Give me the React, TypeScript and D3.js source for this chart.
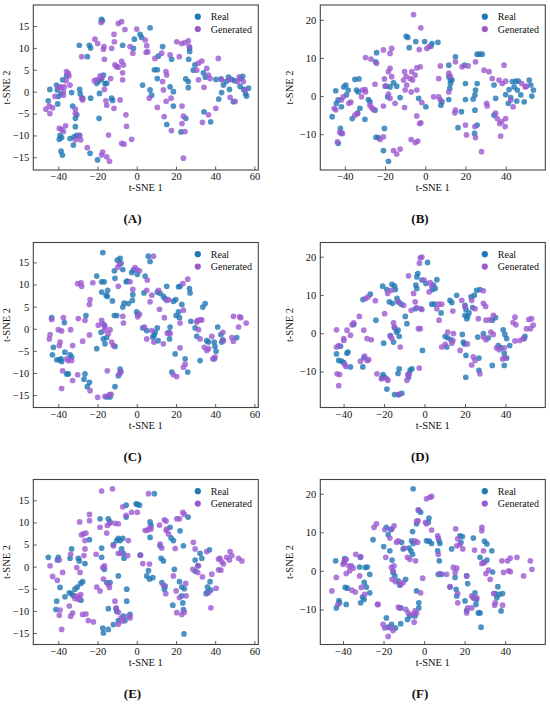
import * as d3 from "d3";
import { useEffect, useRef } from "react";

type Pt = [number, number];

// t-SNE embeddings, one pair of arrays per panel
const realA: Pt[] = [
  [-18, 16.5], [-17.5, 16.2], [-29.3, 10.6], [-24.2, 10.6], [-23.5, 10], [-25.2, 8], [-7.2, 10.6], [-1.7, 9.9],
  [-1.2, 12], [1.7, 13.1], [2.5, 12.4], [6.8, 14.6], [13.2, 10.3], [11, 8.1], [17.8, 7.4], [27, 10], [27, 9.2],
  [26.5, 7.4], [29.7, 6.1], [28.9, 4.9], [9, 5], [10.5, 5], [10.5, 3], [3, 1.5], [6.8, 0.4], [7.6, -0.8], [17, 1.1],
  [18.7, 0], [18.7, -3.3], [15.3, -7.5], [25, 2.9], [26.3, 2.3], [26.3, 0.9], [25, -6.1], [22.6, -9.2], [34.3, -4.6],
  [37.7, -6.9], [34, 4.3], [35, 3.3], [40.4, 2.8], [43, 2.9], [43.3, -0.2], [41.8, -1.7], [44.2, 1.5], [45.6, 2.3],
  [46.8, 3.3], [48.4, 2.8], [47.3, 0.5], [50, 2.5], [53, 3], [54, 3.5], [52.7, 1.2], [54.5, 0.5], [55.5, -0.5],
  [56, -1], [49.3, -2.3], [57, 0.8], [-44.3, 0.5], [-45.1, -2.1], [-40.9, 1.5], [-40.5, 0.4], [-40, -1.1],
  [-37.8, 2.7], [-35.8, 3.6], [-38.6, -0.5], [-40.3, -2.8], [-33.2, -0.2], [-32.7, -3.3], [-29.1, 0.5], [-28.8, -0.5],
  [-27.6, -1.5], [-23.5, -1.5], [-30.6, -5.3], [-31.3, -6.1], [-31.3, -8], [-30.6, -10], [-29.1, -10], [-34, -10.7],
  [-32, -10.3], [-32.3, -12.2], [-39.1, -10], [-38.3, -10.5], [-39.5, -10.9], [-38.6, -13.6], [-37.9, -14.5],
  [-23.8, -14.1], [-20, -15.6], [-19.2, -6.1], [-20.4, 1.9], [-19.5, 2.4], [-17.9, 2.8], [-17, 3.8], [-16.2, 1.8],
  [-15.3, 1.9], [-19, -0.4], [-12.8, -1.5], [-12.3, -2],
];
const genA: Pt[] = [
  [-18.2, 15.8], [-21.3, 12], [-19.9, 11], [-16.7, 10.3], [-17, 9.7], [-16.5, 7.4], [-12.8, 9.9], [-11.6, 13.1],
  [-11.4, 11.4], [-9.4, 15.6], [-7.7, 16], [-6, 14.2], [-3.4, 10.3], [-2, 8.8], [0, 14.3], [4.3, 11.8], [5.1, 10.5],
  [4.8, 9], [5.6, 9.1], [9.3, 7.6], [12.7, 8.8], [14.9, 4.6], [15.3, 3.8], [17, 8.4], [20.4, 11.4], [22.9, 11],
  [24.6, 11.2], [26.3, 11.6], [26.8, 10.3], [21.7, 8], [30.6, 4.9], [31.5, 6.5], [33.2, 7], [35.7, 5.3], [36.6, 3.8],
  [37.4, 3], [34.3, 1], [31.5, 2.7], [33.5, -7], [36.6, -5.3], [40.3, -3.8], [41.6, 7.6], [43.3, 2.7], [47.3, 2.7],
  [47.6, -1.3], [51.3, 2.3], [52.3, 3.4], [54.4, 2.3], [55.2, 0.4], [50.2, -2.2], [13.2, 2.3], [13.6, 0.4],
  [10.5, -3.6], [6.4, -1.5], [15, -2.2], [14, -5.7], [17.5, -1.5], [17.7, -8.9], [23.1, -3.3], [23.8, -5.6],
  [23.1, -7.3], [24.6, -9.1], [23.8, -15.2], [-46.3, -4], [-44.6, -3.3], [-44.3, -5], [-42.9, -3.7], [-41.7, -1.1],
  [-40, 1], [-39.1, 1.1], [-38.3, 1], [-37.4, 0], [-35.8, 4.6], [-34.9, 4.2], [-34.6, 3.6], [-36, 2.5], [-34, 1.5],
  [-37.4, -0.8], [-36.9, 1.1], [-28.1, 8], [-28.1, -1.5], [-27.6, -1.9], [-31.3, -4], [-31.3, -5], [-38.3, -8.6],
  [-37.4, -9.1], [-39.5, -8.4], [-36.3, -7.8], [-29.3, -10.1], [-28.6, -11], [-31.3, -11], [-25.2, -12.8],
  [-17.9, -14.5], [-17.4, -13.8], [-15.3, -14.9], [-13.9, -15.9], [-14.4, -9.9], [-21.6, 2.5], [-20.4, 2.7],
  [-18.7, 3.6], [-17.9, 3.2], [-16.5, 0.5], [-15.7, -2.1], [-15.3, -3.1], [-13.3, 3], [-11.6, -3.8], [-11.1, 6.1],
  [-10.2, 5.7], [-9.4, 5.6], [-7.7, 6.9], [-6.8, 6.1], [-7.2, 4.3], [-7.2, 2.7], [-8.5, -1.9], [-5.5, -5.3],
  [-5.2, -7.9], [-7.7, -11.8], [-6.5, -12], [-2.6, -10.9],
];

const realB: Pt[] = [
  [-9.5, 15.7], [-8.7, 15.4], [-8, 12.7], [-4.7, 14.3], [-0.3, 14.3], [3.3, 13.8], [6.3, 14.1], [2.8, 13.1],
  [-24.2, 11.4], [-24.7, 9], [-44.5, 1.4], [-39.5, 2.9], [-40.5, 2.4], [-46.3, -5.4], [-44.2, -1.9], [-43.3, -1],
  [-41.7, -2.8], [-39.2, 0.3], [-38.3, 1.6], [-35, 4.4], [-33, 4.5], [-34.2, 1.6], [-33.3, 1.1], [-36.3, -5.9],
  [-33.7, -4.5], [-32.5, -3.2], [-30, -6.1], [-28.3, -0.9], [-27.5, -1.5], [-25, -3.7], [-42.2, -8.5], [-41.7, -9.8],
  [-43.3, -12.4], [-24.5, -10.8], [-23.3, -10.9], [-20.3, -8.5], [-20.8, -14.3], [-18.3, -17.1], [-19.5, 2.6],
  [-17.5, 2.4], [-15.8, 3.5], [-14.2, 2.6], [-18.7, -0.2], [-12.5, -0.4], [-3.3, -0.6], [0.3, -2.8], [7.8, -2.4],
  [8.3, -1.5], [11.7, 8.1], [11.7, 5.1], [12.5, 4.2], [13.3, 4.2], [12.5, 3.3], [12.2, 2], [15, 10.3], [11.7, -0.9],
  [19.5, 8.1], [20, 3.3], [20, -0.9], [18, -4.1], [16.3, -8.3], [25.8, 11], [27, 11], [28.3, 11], [25.8, 3.3],
  [25, 1.6], [24.7, 0.3], [23.8, -0.8], [24.7, -3.7], [25.8, -7.6], [24.5, -9.8], [34.2, 2.9], [35, -0.6],
  [34.2, -5], [40, 0.4], [41.7, 1.7], [43.3, 3.8], [45, 3.9], [46.3, 3.9], [44.2, 2.4], [45.8, 1.6], [47.5, 0.3],
  [42.5, -0.4], [45.5, -1.3], [41.3, -1.9], [49.2, -1.5], [51.7, 4.2], [52.5, 2.9], [53.8, 1.6], [53, 0],
];
const genB: Pt[] = [
  [-5.8, 21.4], [-2.2, 17.9], [-3, 12.2], [0.8, 12.5], [2, 13], [-4.2, 7.4], [-6.7, 6.4], [-5, 5.5], [-6.3, 4.2],
  [-2.5, 7.7], [-10.3, 6.4], [-9.5, 5.2], [-10.8, 4.2], [-7.5, 4.6], [-16.7, 12.5], [-17.5, 11.2], [-20.8, 12.1],
  [-29.7, 10.1], [-27, 9.7], [-24.2, 8.6], [-25, 3.1], [-17.5, 7.3], [-16.7, 5.1], [-18.3, 6.4], [-20.3, 4.5],
  [-20, 2.6], [-9.2, 2.9], [-10, 1.6], [-7, 1.1], [-4.2, 1.6], [-18.3, 0.5], [-17.5, -0.6], [-15, -1.9], [-10.3, -3],
  [-20.8, -2.6], [-7, -11.4], [-5, -12.2], [-3.7, -11.8], [-4.2, -5.2], [-2.8, -7.2], [-2.2, -7], [-1.7, -1.7],
  [-15.8, -14.3], [-14.2, -15.2], [-12.5, -13.9], [-20.8, -10.7], [-22.5, -11.4], [-30, 1.7], [-29.7, 1.1],
  [-31.2, 1.6], [-31.7, -0.2], [-27.5, -2.4], [-26.7, -3], [-25.8, -3.5], [-35, -5], [-33.7, -4.6], [-37, -1.6],
  [-38, -1.9], [-40.8, -0.2], [-41.7, -1], [-45.3, -3.2], [-44.5, -3.6], [-42.5, -9.5], [-41.2, -9.8], [-43.7, -12],
  [4.2, -0.2], [6.7, -0.2], [7.5, -1], [7.5, 7.9], [6.7, 4.6], [11.7, 6], [12.5, 5.2], [11.7, 1.1], [15, 9],
  [15, -3.7], [14.7, -4.4], [18.3, 7.7], [21.3, 7.9], [20, -7.6], [20.5, -10.2], [25, 9], [24.7, -8], [25, -10.9],
  [28, -14.6], [29.2, 6.8], [31.7, 6.4], [33.3, 4.6], [30.5, -1.9], [30.8, -2.6], [36.7, 4.2], [38.3, 3.3],
  [40, 3.9], [35, -4.5], [35.8, -5.9], [37, -7.2], [38, -6.7], [39.7, -8], [40, -5.9], [37.5, -10.5], [39.2, 8.1],
  [42.5, -1], [43.7, -2.8], [48, 3.3], [49.7, 2.4], [50.3, 2.6],
];

const realC: Pt[] = [
  [-17.3, 17.2], [-9.9, 15.5], [-8.5, 15.9], [-8, 14.8], [-7.1, 13.4], [-11.4, 13.1], [-11.1, 11.4], [-5.4, 10.6],
  [-4.8, 10.8], [-2.6, 12.7], [-1.7, 13.3], [0.3, 12.3], [4.3, 11.9], [5.9, 16.4], [6.8, 15.2], [-20.4, 11.9],
  [-17.9, 10.6], [-16.6, 10.6], [-17.9, 8.3], [-15.6, 7.6], [-14.8, 8.7], [-15, 7.3], [-12.4, 6.3], [-11.4, 3],
  [-10.2, 3], [-7.1, 4.9], [-6.5, 5.8], [-4.3, 5.7], [-2, 7.7], [-2.2, 6.4], [0, 3.8], [0.5, 3.2], [3.7, 8.1],
  [10.5, 8.3], [11.9, 8], [13.6, 7.3], [14.5, 6.8], [15.3, 9.6], [18.7, 6.2], [19.9, 6.6], [21.3, 9.5], [22.1, 9.6],
  [23, 5.5], [20.1, 3], [21.3, 3.8], [21.8, 2.5], [27.2, 8.1], [26.9, 9.1], [27.6, 1.7], [29.8, 0.2], [30.6, -1.7],
  [33.7, 4.9], [34.9, 5.7], [35.7, -2.7], [36.6, -3], [32.3, -7.2], [39.5, -3], [39.9, -4], [40.5, -5.1],
  [39.6, -6.8], [41.3, 0.4], [42.9, -1.3], [43.3, -3], [43.9, -2.5], [51, -2], [24.7, -6.8], [26, -9.8],
  [19.6, -5.7], [17.9, -9.8], [17, 0.4], [16.5, -0.8], [16.7, -2.3], [10.5, 0.2], [9.4, -0.8], [8.8, -1.5],
  [10.9, -2.7], [3.1, 0.2], [5.1, -0.4], [8.2, -1.9], [-43.4, 2.5], [-42.5, -4.2], [-43, -5.9], [-40.8, -7],
  [-39.5, -7], [-38.6, -6.8], [-38.3, -7.4], [-36.6, -5.3], [-34, -5.9], [-33.2, -6.4], [-35.7, -10.2],
  [-34.9, -10.2], [-36.9, 1.4], [-26.4, -10.2], [-26.9, -11.4], [-24.1, -12.1], [-25.2, -13.1], [-25.9, 3],
  [-20.4, -4.5], [-18.2, -0.8], [-17, -2.3], [-16.2, -3.4], [-15.3, -2], [-11.1, -4], [-16.5, 0.8], [-8.5, -9.1],
  [-8.2, -9.8], [-9.4, -10.6], [-11.1, -13.1], [-15.3, -15.4], [-13.6, -15.4],
];
const genC: Pt[] = [
  [-30.1, 10.2], [-28.4, 10.4], [-28.1, 9.6], [-22.4, 10.4], [-23.8, 6.6], [-24.1, 5.5], [-8.8, 14.6], [-9.7, 13.9],
  [-9.4, 9.6], [-3.4, 10.6], [-2, 8.9], [-0.9, 13.8], [0, 13.4], [1.4, 13.1], [5.4, 11], [5.1, 8.7], [7.7, 7.6],
  [6.8, 6.1], [8.5, 16.4], [11.1, 8.7], [11.6, 4.4], [14.1, 2.5], [15.3, 6.4], [16.2, 6.6], [23.5, 10.2], [26, 11.2],
  [23.8, 4.2], [22.1, 1.3], [30.6, 1.5], [31, 1.9], [32.3, 2], [33.2, 2], [31.5, -0.2], [32.3, -2.3], [34.5, -4.2],
  [35.7, -4.9], [36.6, -4.5], [38.3, -1.7], [38.8, -6.8], [39.9, -6.4], [43.9, -0.8], [44.2, -2.7], [48.5, -2],
  [49.3, -2.8], [51.9, 0.4], [49.3, 2.8], [52.4, 2.7], [53.1, 2.5], [55.8, 1.3], [23.8, -8.7], [24.7, -8],
  [20.4, -10.8], [18.7, -10.4], [22.1, -4.3], [13.6, -3.4], [15.6, -1], [17, -1.1], [5.1, -2.3], [8.8, -3],
  [3.9, 0.4], [7.7, -0.4], [0.5, 2.7], [1.4, 3.3], [-7.1, 2.8], [-6.8, 1.3], [-13.6, -0.2], [-14.5, -1.1],
  [-16.5, -0.4], [-16.2, 0.4], [-17.9, 1.9], [-17.3, 1.1], [-12.8, -3], [-11.9, -3.8], [-19.6, 0.8], [-15, -9.5],
  [-8.2, -9.7], [-8.8, -10.2], [-16.2, -15.3], [-13.9, -14.9], [-13.1, -14.8], [-19.9, -15.5], [-23.8, -14],
  [-30.1, -10.4], [-32.7, -11.7], [-37.8, -9.5], [-38.3, -13.5], [-44.2, -1.3], [-44.6, -2.3], [-43.4, 2.1],
  [-40, -0.2], [-38.3, -0.5], [-39.1, -3], [-39.5, -3.8], [-37.4, 2.5], [-33.7, -0.2], [-32.7, -3.8], [-35.7, -6.8],
  [-34.9, -7.2], [-33.2, -7.2], [-29.8, 2.3], [-27.6, -2.8], [-26.4, 1.9], [-24.1, -1.4],
];

const realD: Pt[] = [
  [1.5, 18.5], [-1.3, 13.9], [0.7, 13], [-3.3, 15.6], [-3.8, 14.7], [-4.3, 12.6], [-3.8, 11.7], [4.4, 12.6],
  [5.3, 11.7], [3.9, 11.4], [6.1, 14], [3.6, 7.6], [4.9, 7.6], [-1.8, 6.4], [-4.6, 6.4], [-1, -4.5], [8.2, 5.3],
  [10.2, -0.8], [11.5, -1.2], [13.1, -1.7], [11, -3.6], [12.6, 8.6], [13.5, 8], [15.9, 9.9], [20, 7.3], [20.5, 6.2],
  [22, 5.3], [21.3, 4.4], [20.9, 3.8], [20, 4.7], [23, 9.5], [24.6, 9.9], [25.8, 11.2], [27.4, 11.4], [23.8, 6.7],
  [18.7, -0.3], [19.2, -2.3], [19.7, -2.8], [20.5, -5.8], [20.4, -11.5], [26.3, -1], [26.9, -6.5], [26.9, -9.7],
  [29.1, -0.1], [31.5, -1.2], [33.5, 3.4], [35.1, 4.1], [33.5, -8.4], [36.5, -3.2], [37.8, -3.8], [38.9, 0.9],
  [39.7, -0.3], [40.6, -1.4], [39.4, -5.2], [40.6, -6.5], [39.4, -8.4], [42.1, -3.2], [49.6, -0.8], [49.3, -1.4],
  [-43.5, -5.4], [-42.4, -7.1], [-41, -7.3], [-39.9, -7.7], [-38.3, -5.2], [-37.8, -4.9], [-41.5, -3.4],
  [-36.6, -8.8], [-35, 2.3], [-30.5, -8.8], [-30, -6.4], [-30.4, 8.8], [-26.8, 10.2], [-24, 3.4], [-20.7, 12.3],
  [-18.6, 11.4], [-16.1, 12.8], [-14.8, 12.3], [-14.4, 11.4], [-17.4, 8.2], [-15.8, 7.8], [-13.6, 9.1],
  [-12.8, 8.2], [-11.5, 7.6], [-9.5, 4.4], [-8.7, 2.5], [-14.8, 1.4], [-13.9, 0.3], [-13.1, 0.8], [-12.5, -0.8],
  [-15.3, -2.3], [-16.9, -0.6], [-20.2, -2.6], [-20.5, -10.8], [-19.7, -11.5], [-21, -11.7], [-18.6, -14.6],
  [-14.8, -16], [-12.8, -16.1], [-11.2, -15.7], [-12.5, -9.3], [-13.1, -10.5], [-7.1, -9.6], [-6.2, -9.3],
  [-7.6, -10.6], [-7.9, -11.5],
];
const genD: Pt[] = [
  [-2.1, 19.7], [-1.3, 19.9], [-2.5, 18.3], [-7.9, 15], [-0.2, 13.9], [2.8, 13.2], [3.6, 12.3], [2.3, 10.8],
  [-5.4, 10.4], [-4.6, 8.2], [-6.6, 6], [-3.8, 6.7], [-1.3, 6.2], [6.9, 7.6], [6.1, 6.4], [8.5, 7.6], [7.2, 3.4],
  [11.5, 0.3], [8.5, -3.6], [10.2, -2.9], [14.3, -0.1], [14, -1.9], [13.5, -2.6], [14, 5.8], [17.6, -4.5],
  [18.4, 8.6], [20, 6.9], [21.2, -2.8], [23.3, 8.6], [25, 6.4], [26.6, 3.8], [24.1, -6.2], [25, -7.1], [23.3, -8.3],
  [27.4, -10.6], [29.1, 11.1], [29.1, 7.8], [30.2, 7], [29.1, -1], [30.4, -1.7], [30.4, 3.4], [32.3, 3.5],
  [32.8, 0.3], [34, -0.3], [34, 4.7], [35.6, -3.8], [36.9, -4.3], [39.4, -3.8], [39.7, -6.4], [38.6, -6.7],
  [44.7, 4.2], [45.2, 2.2], [43.8, 2.8], [44.7, -2], [47.1, -1.9], [48.8, -1.4], [50.4, 1.2], [51.6, 3.6],
  [52.9, 3.8], [53.7, 2.1], [52.4, 1.2], [-43.5, 0.9], [-43.5, -3.6], [-42.4, -3.2], [-39.9, -1.4], [-39.9, -1.9],
  [-38.3, 0.8], [-36.6, -0.5], [-35.8, 2.2], [-35, 2.7], [-38.8, -8.7], [-39.4, -8.2], [-43.2, -10.6],
  [-42, -10.8], [-42.4, -13.7], [-32.2, 4.4], [-30, 0.8], [-29.1, 9.1], [-27.8, 9.5], [-24.3, 8.5], [-28.4, -1.4],
  [-26.3, -1.7], [-29.6, -6], [-28.4, -7.1], [-27.6, -6.9], [-31.7, -7.3], [-23.5, -10.6], [-21.3, -11.9],
  [-18.6, -11.9], [-18.1, -12.3], [-19.7, 5.1], [-18.2, 10.4], [-16.4, 11.2], [-15.3, 2.7], [-14.9, 1.6],
  [-16.9, -0.8], [-16.1, -1.4], [-12, -3.6], [-13.1, 8.2], [-10.3, 7.3], [-8.7, -12.3], [-7.9, -10.9],
  [-8.2, -10.8], [-12.5, -15.9], [-2.6, -9.1], [-3, 1.2], [-2.1, 1.2],
];

const realE: Pt[] = [
  [-45.1, 2.1], [-40, 2.1], [-40.5, 1.5], [-39.1, -4.7], [-40.8, -7.8], [-41.2, -9.7], [-36.6, -6.8], [-34.4, -5.9],
  [-33.2, -6.1], [-32.3, -6.6], [-33.2, 4], [-34, 1.9], [-31.5, -5.1], [-30.3, -4.6], [-29.8, 1.9], [-29.3, 1.3],
  [-28.6, -3.8], [-27.6, -3.4], [-28.4, -7.6], [-26.4, 0.7], [-24.1, 6.1], [-18.7, 10.8], [-17.9, 4.2], [-17.9, 2.1],
  [-16.5, -0.6], [-14.5, 10.8], [-13.6, 10.1], [-15.3, -3.6], [-13.6, -3.6], [-14.5, -9.5], [-17.3, -13.9],
  [-17, -15], [-14.5, -14.2], [-11.9, 5], [-10.2, 5.9], [-9.4, 6.4], [-8.5, 5.9], [-7.1, 6.4], [-7.7, 4], [-6.8, 3],
  [-6.5, 1.9], [-9.4, -2.1], [-10.5, -9.5], [-10.2, -10.1], [-11.9, -13.1], [-9.4, -12.2], [-6.8, -11.2],
  [-6, -12.2], [-5.1, -5.1], [-5.1, -7.8], [-5.4, 13.9], [-5.4, 11.2], [-3.4, -10.8], [-0.3, 14.2], [0.3, 14.1],
  [1.4, 13.9], [1.7, 2.6], [5.1, -2.1], [6, -0.9], [6.5, -2.8], [8.2, -2.5], [6.8, 10.1], [7.3, 9.3], [6.8, 6.6],
  [9, 16.5], [11.9, 4.7], [12.4, 1.9], [13.6, 1.3], [12.8, -3.6], [14.5, -4.4], [14.1, -5.1], [17, 8.9],
  [17.5, 6.5], [18.7, 5.9], [19.2, -0.6], [18.4, -8.7], [22.1, 8.1], [23.8, 4.7], [21.8, -3.4], [23, -4.6],
  [24.3, -5], [23, -6.6], [23.5, -8.2], [23.8, -9.7], [26.2, 11.2], [24.1, -15.2], [29.8, 1.5], [29.8, -1],
  [31.1, 0.2], [32.3, 3], [33.2, 1.9], [36.1, -4.6], [37.4, -3.4], [37.1, 3.8], [36.1, -5.7], [35.4, -6.1],
  [37.8, -5.3],
];
const genE: Pt[] = [
  [-17.9, 17.1], [-12.4, 17.6], [6, 16.5], [-29.1, 10.1], [-24.1, 11.8], [-24.1, 10.4], [-28.2, 7.2], [-27.2, 7.4],
  [-25.9, 7.6], [-26.4, 5.9], [-26.4, 4], [-26.9, 2.5], [-33.7, 2.8], [-39.5, 1.5], [-44.2, 0.2], [-42.9, -2.2],
  [-40.5, -3.1], [-37.8, -1.3], [-30.6, -0.2], [-28.9, -1.3], [-31, -6.6], [-31.5, -7.2], [-29.8, -7.4],
  [-28.6, -6.3], [-29.3, -7], [-34.4, -8.9], [-33.7, -11.2], [-32.7, -10.5], [-39.1, -9.8], [-39.5, -11],
  [-38.3, -14.2], [-27.6, -10.8], [-25.9, -10.7], [-24.7, -12.2], [-22.1, -12.5], [-20.4, -4.6], [-18.7, -5.5],
  [-20.7, 2.8], [-18.7, 8.9], [-17.3, -0.2], [-16.5, 0.2], [-17, -2.8], [-14.5, -4], [-13.9, -4.7], [-15, 9.3],
  [-15.3, 7.6], [-13.9, 9.8], [-11.9, 4.7], [-11.1, 9.8], [-9.4, 9.7], [-9.4, 3], [-8.2, 3], [-11.1, -7.8],
  [-10.5, -9.3], [-9.4, -10.3], [-8, -11.6], [-7.3, -12.3], [-9.4, -13], [-4.3, -11.2], [-3.4, -11.6],
  [-7.1, 13.5], [-5.4, 11.6], [-4.3, 5.9], [-4.6, 2.5], [-2.6, 12.3], [0.3, 12.3], [2, 2.6], [3.1, 0.7], [4.3, 8.2],
  [5.4, 8.2], [6.5, 8.7], [7.3, 8.5], [6.5, 0.6], [11.6, 9.4], [11.9, 5.1], [12.8, 4.2], [14.1, 10.6], [15, 10.3],
  [15.3, 8.5], [15, 8.2], [16.2, 7.4], [13.6, -4.2], [14.8, -6.1], [18.7, -2.1], [19.6, 4.1], [20.4, 10.8],
  [21.8, 10.8], [20.1, -5.5], [20.4, -10.4], [21.8, -7], [23, -10.8], [24.3, -10.3], [25.2, -6.6], [25, -3.8],
  [23.5, 12.3], [24.3, 11.8], [28.9, 5.5], [29.8, 4], [28.6, -0.6], [31.1, -1.3], [31.5, 0.2], [33.5, -2.3],
  [35.7, 3.4], [36.6, -5.9], [38.3, -1.7], [37.8, -9.3], [40.5, -4.9], [41.7, 1.7], [42.5, 1.9], [43.4, 1.1],
  [44.2, 0.6], [41.7, -0.7], [42.9, -0.8], [45.9, 2.1], [47.6, 3.4], [48.5, 2.5], [47.3, 1.5], [51.9, 1.9],
  [53.6, 1.3],
];

const realF: Pt[] = [
  [-5.4, 21.3], [2.4, 13.7], [2.1, 12.6], [-2.6, 15.7], [-1.7, 15.2], [-3.7, 12.2], [-5.7, 10.2], [-6.2, 7.8],
  [-5.4, 7.1], [-5.7, 4.3], [1.2, 7.8], [2.6, 7.7], [3.7, 7.1], [7.4, 7.8], [7.8, 7.1], [6.7, 5.2], [7.5, 2.6],
  [7, -0.9], [8.7, -0.9], [13.6, 5.7], [15.3, -1.7], [15.8, -4.8], [16.1, -6.5], [12.8, -4.2], [17.7, 9.1],
  [18.9, 8.9], [18.2, 7.4], [24.3, 8.5], [21, -1.3], [21.5, -3.3], [20.2, -7.8], [21, -10.3], [25.1, -5.7],
  [25.9, -7.4], [25.6, -8.7], [27.6, -10.9], [26.8, -10.9], [28.1, -14.6], [24.3, -7], [27.6, 3.5], [29.3, 2.2],
  [29.8, 7.7], [31, 7], [31, 2.8], [33.4, 5.2], [33.8, -0.3], [36.4, -4.1], [35.1, -5.9], [35.9, -7], [37, -6.1],
  [38, -10.4], [38.7, -5.9], [-43.6, 2.6], [-39.2, 3.2], [-39.5, 2.2], [-38.9, -4.3], [-37.9, -4.5], [-42, -7.7],
  [-41.7, -8.3], [-43.3, -9.6], [-38.4, -8.7], [-31.4, 3.5], [-31.8, 1], [-29, 0.9], [-28, 1], [-29.5, -3],
  [-26.8, -0.9], [-30.4, -6.8], [-31.3, -8.3], [-29.6, -7.4], [-28.5, -4.2], [-26.8, -5.7], [-25.2, 8.1],
  [-19.9, 6.3], [-18.6, 11.3], [-16.4, 10.7], [-17.7, 9.4], [-16.9, 5.2], [-15.8, 2.8], [-14.4, -1.3],
  [-15.3, -0.4], [-12.8, -2.6], [-12, -3.7], [-11.1, 7.4], [-10.3, 5.7], [-9.1, -2.2], [-7.5, 5.9], [-6.5, 5.2],
  [-8.2, -12.6], [-7, -11.7], [-11.5, -9.6], [-11.5, -13.7], [-16.1, -13.9], [-14.1, -14.8], [-17.7, -14.6],
  [-18.6, -12.2], [-4.5, -11.7], [-2.6, -8.3], [-2.6, -9.6], [-3.7, -5.2],
];
const genF: Pt[] = [
  [1.2, 18.7], [2.9, 19.1], [3.7, 19.3], [-2.9, 15.8], [-3.7, 12.9], [-2.9, 13], [0.7, 12.6], [1.2, 12.2],
  [3.7, 10.6], [-3.2, 7.4], [-4.5, 7.8], [-4.2, 2.6], [-0.7, -1.9], [-1.7, -5.7], [-3.7, -10.9], [-5.4, -11.3],
  [-4.5, -10.4], [-4.9, -13.3], [-9, -10], [-7.8, -10.9], [-12, -9.6], [-12.7, -9.4], [-8.2, 3.5], [-7, 3],
  [-9.8, 5.9], [-12.8, 7.8], [-13.6, 7.4], [-14.8, 11.7], [-15.8, 10.9], [-19.4, 10.7], [-24.7, 11.3],
  [-23.5, 12.2], [-18.9, 3.5], [-16.9, 8.5], [-16.1, 0.9], [-15.3, 0], [-14.8, 1.3], [-15.8, -2.2], [-14.1, -2.8],
  [-11.5, -3.5], [-10.3, -3], [-20.2, -13.9], [-19.4, -14.8], [-17.7, -17], [-16.4, -14.8], [-15.3, -15.5],
  [-22.7, -8.7], [-33.7, 4.3], [-31.3, 3.7], [-35, 0.7], [-36.7, 0], [-38.4, -0.7], [-35.9, 1.3], [-37.2, 1.3],
  [-38.4, 3], [-39.2, 2.6], [-40, 1.7], [-43.3, -1.7], [-45.5, -5.2], [-35.6, -5], [-33.9, -5.5], [-31.8, -1.3],
  [-31, -4.3], [-29.3, -6.1], [-42.5, -8.7], [-23, -8.7], [6.7, 9.1], [7, 8.5], [7, 4.3], [7.8, -0.7], [11.1, -0.9],
  [12.8, -4.1], [14.4, 0.9], [15.3, -0.4], [16.1, 0.7], [15.6, 10.9], [16.6, 8.3], [16.1, 6.5], [17.7, 6.8],
  [19.1, 5.7], [16.6, -5.9], [16.6, -8.3], [21, -1.3], [21.5, -9.6], [21, -10.9], [23.5, -9.6], [23.5, -6.5],
  [24.9, -7.2], [26, -7], [24.9, 5.4], [28.5, 11.3], [28.5, 10.4], [29.3, 5.2], [28.5, 1.9], [29.8, 2.2],
  [30.5, -0.7], [31.8, 0.2], [32.6, -2.2], [34.3, -5.9], [35.1, -8.3], [34.8, -8.9], [38.4, 2.6], [39.2, -0.4],
  [41.2, 2.6], [42.5, 3.3], [41.7, 0], [42.5, -0.2], [45.8, 3.5], [49.1, -1.3], [52.4, 2.6], [53.2, 0.4],
  [38.7, -8.9],
];

const seriesNames = ["Real", "Generated"];
const panelLabels = ["(A)", "(B)", "(C)", "(D)", "(E)", "(F)"];
const xTicksWide = [-40, -20, 0, 20, 40, 60];
const xTicksNarrow = [-40, -20, 0, 20, 40];
const yTicksFine = [-15, -10, -5, 0, 5, 10, 15];
const yTicksCoarse = [-10, 0, 10, 20];

const panels = [
  { real: realA, gen: genA, xDomain: [-52.75, 62], yDomain: [-17.9, 19.8], xTicks: xTicksWide, yTicks: yTicksFine },
  { real: realB, gen: genB, xDomain: [-52.2, 59.7], yDomain: [-19.4, 23.9], xTicks: xTicksNarrow, yTicks: yTicksCoarse },
  { real: realC, gen: genC, xDomain: [-52.75, 62], yDomain: [-17.8, 19.5], xTicks: xTicksWide, yTicks: yTicksFine },
  { real: realD, gen: genD, xDomain: [-51.5, 59.7], yDomain: [-19.4, 23.7], xTicks: xTicksNarrow, yTicks: yTicksCoarse },
  { real: realE, gen: genE, xDomain: [-52.75, 62], yDomain: [-17.6, 19.7], xTicks: xTicksWide, yTicks: yTicksFine },
  { real: realF, gen: genF, xDomain: [-51.2, 59.8], yDomain: [-19.1, 23.7], xTicks: xTicksNarrow, yTicks: yTicksCoarse },
];

const colors = ["#1f77b4", "#9b59d0"];
const font = "'Liberation Serif', 'Times New Roman', serif";

export default function App() {
  const ref = useRef<SVGSVGElement>(null);

  useEffect(() => {
    const svg = d3.select(ref.current);
    svg.selectAll("*").remove();

    const width = 550;
    const height = 705;
    svg.attr("viewBox", `0 0 ${width} ${height}`);

    const plotW = 225;
    const plotH = 165;
    const colLeft = [33.3, 320.3];
    const rowTop = [5, 242.5, 479.5];
    const labelX = [132.5, 420];

    panels.forEach((p, i) => {
      const col = i % 2;
      const row = Math.floor(i / 2);
      const g = svg.append("g").attr("transform", `translate(${colLeft[col]},${rowTop[row]})`);

      const x = d3.scaleLinear().domain(p.xDomain).range([0, plotW]);
      const y = d3.scaleLinear().domain(p.yDomain).range([plotH, 0]);
      const fmt = (d) => String(d).replace("-", "\u2212");

      // Axes with inward ticks
      const xAxis = g
        .append("g")
        .attr("transform", `translate(0,${plotH})`)
        .call(d3.axisBottom(x).tickValues(p.xTicks).tickSizeInner(-3.5).tickSizeOuter(0).tickPadding(3).tickFormat(fmt));
      const yAxis = g
        .append("g")
        .call(d3.axisLeft(y).tickValues(p.yTicks).tickSizeInner(-3.5).tickSizeOuter(0).tickPadding(4).tickFormat(fmt));
      [xAxis, yAxis].forEach((a) => {
        a.select(".domain").remove();
        a.selectAll("line").attr("stroke", "#333").attr("stroke-width", 0.8);
        a.selectAll("text").attr("font-family", font).attr("font-size", "10.5px").attr("fill", "#111");
      });

      // Points: real first, generated on top
      [p.real, p.gen].forEach((pts, s) => {
        g.append("g")
          .selectAll("circle")
          .data(pts)
          .enter()
          .append("circle")
          .attr("cx", (d) => x(d[0]))
          .attr("cy", (d) => y(d[1]))
          .attr("r", 2.85)
          .attr("fill", colors[s])
          .attr("fill-opacity", 0.8);
      });

      // Frame
      g.append("rect")
        .attr("width", plotW)
        .attr("height", plotH)
        .attr("fill", "none")
        .attr("stroke", "#444")
        .attr("stroke-width", 1.1);

      // Legend
      const lg = g.append("g").attr("transform", `translate(${plotW - 60.5},11.7)`);
      seriesNames.forEach((name, s) => {
        lg.append("circle").attr("cx", 0).attr("cy", s * 12.4).attr("r", 3.1).attr("fill", colors[s]);
        lg.append("text")
          .attr("x", 13)
          .attr("y", s * 12.4)
          .attr("dy", "0.35em")
          .attr("font-family", font)
          .attr("font-size", "10px")
          .attr("fill", "#111")
          .text(name);
      });

      // Axis titles
      g.append("text")
        .attr("x", plotW / 2)
        .attr("y", plotH + 21)
        .attr("text-anchor", "middle")
        .attr("font-family", font)
        .attr("font-size", "10.5px")
        .attr("fill", "#111")
        .text("t-SNE 1");
      g.append("text")
        .attr("transform", `translate(${col === 0 ? -23 : -27},${plotH / 2}) rotate(-90)`)
        .attr("text-anchor", "middle")
        .attr("font-family", font)
        .attr("font-size", "10.5px")
        .attr("fill", "#111")
        .text("t-SNE 2");

      // Panel label under each subplot
      svg
        .append("text")
        .attr("x", labelX[col])
        .attr("y", rowTop[row] + 218)
        .attr("text-anchor", "middle")
        .attr("font-family", font)
        .attr("font-size", "13px")
        .attr("font-weight", "bold")
        .attr("fill", "#111")
        .text(panelLabels[i]);
    });
  }, []);

  return (
    <div>
      <style>{`body{margin:0}`}</style>
      <svg ref={ref} width={550} height={705} style={{ display: "block", background: "#fff" }} />
    </div>
  );
}
